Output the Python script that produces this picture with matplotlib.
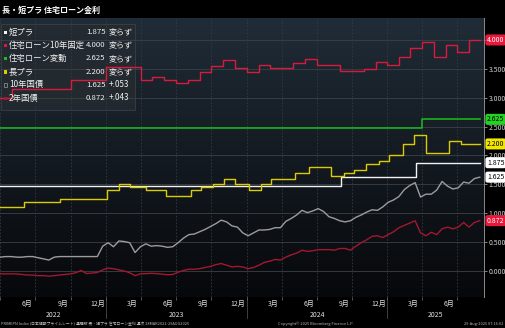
import numpy as np
import pandas as pd
import matplotlib
matplotlib.use('Agg')
import matplotlib.pyplot as plt
import matplotlib.transforms as mtransforms
from matplotlib.patches import FancyBboxPatch, Rectangle

plt.rcParams['font.family'] = ['Noto Sans CJK JP', 'DejaVu Sans']

W, H = 505, 328

# ---- データ ----
title = '長・短プラ 住宅ローン金利'
end_date = '2025-08-29'

# 住宅ローン10年固定 (月次)
fixed10_months = pd.date_range('2022-04-01', '2025-08-01', freq='MS')
fixed10_rate = [3.00, 3.15, 3.15, 3.15, 3.15, 3.15, 3.30, 3.30, 3.30,
                3.53, 3.53, 3.53, 3.30, 3.36, 3.30, 3.26, 3.30, 3.45, 3.55, 3.65, 3.52,
                3.45, 3.57, 3.52, 3.52, 3.60, 3.67, 3.57, 3.57, 3.46, 3.46, 3.50, 3.61,
                3.56, 3.70, 3.86, 3.96, 3.70, 3.91, 3.80, 4.00]

# 住宅ローン変動
variable_dates = ['2022-04-01', '2025-04-01']
variable_rate = [2.475, 2.625]

# 短プラ
short_prime_dates = ['2022-04-01', '2024-09-02', '2025-03-17']
short_prime_rate = [1.475, 1.625, 1.875]

# 長プラ
long_prime_dates = ['2022-04-01', '2022-06-02', '2022-09-03', '2023-01-03', '2023-02-03',
                    '2023-03-04', '2023-04-15', '2023-06-06', '2023-08-10', '2023-09-05',
                    '2023-10-06', '2023-11-03', '2023-12-02', '2024-01-07', '2024-02-07',
                    '2024-03-04', '2024-05-06', '2024-06-11', '2024-08-07', '2024-09-10',
                    '2024-10-06', '2024-11-07', '2024-12-10', '2025-01-05', '2025-02-10',
                    '2025-03-11', '2025-04-11', '2025-06-10', '2025-07-11']
long_prime_rate = [1.10, 1.20, 1.25, 1.40, 1.50, 1.45, 1.40, 1.30, 1.40, 1.45,
                   1.50, 1.60, 1.50, 1.40, 1.50, 1.60, 1.70, 1.80, 1.65, 1.70,
                   1.75, 1.85, 1.90, 2.00, 2.20, 2.35, 2.05, 2.25, 2.20]

# 国債利回り (2週ごと)
bond_dates = pd.date_range('2022-04-01', end_date, freq='14D')
jgb10 = [0.24, 0.25, 0.25, 0.24, 0.24, 0.25, 0.25, 0.23, 0.21, 0.19,
         0.24, 0.25, 0.25, 0.25, 0.25, 0.25, 0.25, 0.25, 0.25, 0.43,
         0.49, 0.42, 0.52, 0.51, 0.49, 0.32, 0.42, 0.47, 0.43, 0.44,
         0.43, 0.41, 0.42, 0.49, 0.57, 0.63, 0.64, 0.68, 0.72, 0.77,
         0.82, 0.88, 0.85, 0.78, 0.76, 0.66, 0.61, 0.66, 0.71, 0.71,
         0.72, 0.75, 0.75, 0.86, 0.91, 0.97, 1.05, 1.01, 1.04, 1.08,
         1.03, 0.94, 0.91, 0.87, 0.85, 0.87, 0.93, 0.97, 1.02, 1.06,
         1.05, 1.11, 1.19, 1.23, 1.29, 1.41, 1.48, 1.53, 1.28, 1.33,
         1.33, 1.40, 1.55, 1.47, 1.42, 1.44, 1.54, 1.52, 1.60, 1.625]
jgb2 = [-0.05, -0.05, -0.05, -0.05, -0.06, -0.07, -0.07, -0.08, -0.08, -0.09,
        -0.08, -0.07, -0.06, -0.05, -0.03, 0.01, -0.045, -0.035, -0.025, 0.02,
        0.05, 0.04, 0.02, 0.00, -0.03, -0.08, -0.05, -0.045, -0.04, -0.045,
        -0.055, -0.065, -0.06, -0.02, 0.01, 0.03, 0.03, 0.04, 0.06, 0.08,
        0.11, 0.13, 0.10, 0.07, 0.08, 0.07, 0.04, 0.06, 0.10, 0.15,
        0.17, 0.20, 0.19, 0.24, 0.28, 0.31, 0.36, 0.34, 0.35, 0.37,
        0.37, 0.37, 0.36, 0.39, 0.39, 0.36, 0.43, 0.49, 0.54, 0.60,
        0.61, 0.58, 0.63, 0.68, 0.75, 0.79, 0.83, 0.87, 0.66, 0.61,
        0.67, 0.63, 0.73, 0.76, 0.73, 0.76, 0.84, 0.76, 0.84, 0.872]

legend_names = ['短プラ', '住宅ローン10年固定', '住宅ローン変動', '長プラ', '10年国債', '2年国債']
legend_values = ['1.875', '4.000', '2.625', '2.200', '1.625', '0.872']
legend_changes = ['変らず', '変らず', '変らず', '変らず', '+.053', '+.043']

yticks = [0.0, 0.5, 1.0, 1.5, 2.0, 2.5, 3.0, 3.5, 4.0]

# ---- 色 ----
c_fixed = '#d81a3c'
c_var = '#1cbd1c'
c_short = '#f2f2f2'
c_long = '#dccb00'
c_jgb10 = '#9c9c9c'
c_jgb2 = '#a3172f'


def px(x, y):
    return x / W, 1 - y / H


def extend(dates, values):
    d = list(pd.to_datetime(dates)) + [pd.Timestamp(end_date)]
    v = list(values) + [values[-1]]
    return d, v


fig = plt.figure(figsize=(W / 100, H / 100), dpi=100, facecolor='black')
ax = fig.add_axes([0, 1 - 297 / H, 484 / W, (297 - 18) / H])
ax.set_facecolor('#0b0d11')

# 背景グラデーション
grad = np.linspace(0, 1, 256)[:, None]
top = np.array([0x20, 0x2c, 0x37]) / 255
bot = np.array([0x07, 0x08, 0x0b]) / 255
img = top[None, None, :] * (1 - grad[:, :, None]) + bot[None, None, :] * grad[:, :, None]
ax.imshow(img, extent=[0, 1, 0, 1], transform=ax.transAxes, aspect='auto', zorder=0)

# 凡例ボックス (線の下)
box = FancyBboxPatch(px(1, 110), 134 / W, 86 / H, boxstyle='square,pad=0',
                     transform=fig.transFigure, fc='#242a30', ec='#3c4248', lw=0.6,
                     alpha=0.9, zorder=1)
ax.add_artist(box)
box.set_transform(fig.transFigure)

# 系列
ax.plot(bond_dates, jgb2, color=c_jgb2, lw=1.0, zorder=3)
ax.plot(bond_dates, jgb10, color=c_jgb10, lw=1.0, zorder=3)
d, v = extend(short_prime_dates, short_prime_rate)
ax.plot(d, v, color=c_short, lw=1.0, drawstyle='steps-post', zorder=3)
d, v = extend(long_prime_dates, long_prime_rate)
ax.plot(d, v, color=c_long, lw=1.0, drawstyle='steps-post', zorder=3)
d, v = extend(variable_dates, variable_rate)
ax.plot(d, v, color=c_var, lw=1.1, drawstyle='steps-post', zorder=3)
d, v = extend(fixed10_months, fixed10_rate)
ax.plot(d, v, color=c_fixed, lw=1.0, drawstyle='steps-post', zorder=3)

# 軸
ax.set_xlim(pd.Timestamp('2022-03-31'), pd.Timestamp('2025-09-09'))
ax.set_ylim(-0.45, 4.38)
ax.yaxis.tick_right()
ax.set_yticks(yticks)
ax.set_yticklabels([f'{t:.3f}' for t in yticks])
ax.tick_params(axis='y', which='major', labelsize=5, labelcolor='#cfcfcf', color='#9a9a9a',
               length=2, width=0.6, pad=1.5)
ax.grid(axis='y', color='#3a4148', lw=0.6, zorder=1)

quarter_starts = pd.date_range('2022-04-01', '2025-07-01', freq='QS')
ax.set_xticks(quarter_starts)
ax.set_xticklabels([''] * len(quarter_starts))
ax.grid(axis='x', which='major', color='#323a42', lw=0.6, ls=(0, (2, 2)), zorder=1)
ax.tick_params(axis='x', which='major', length=2, color='#777777', width=0.5)

month_pos = pd.date_range('2022-06-01', '2025-06-01', freq='3MS') + pd.Timedelta(days=9)
ax.set_xticks(month_pos, minor=True)
ax.set_xticklabels([f'{m.month}月' for m in month_pos], minor=True)
ax.tick_params(axis='x', which='minor', length=0, labelsize=5, labelcolor='#e0e0e0', pad=2)

for s in ['top', 'left', 'bottom']:
    ax.spines[s].set_visible(False)
ax.spines['right'].set_color('#8a8a8a')
ax.spines['right'].set_linewidth(0.7)

# 年ラベルと区切り線
trans = mtransforms.blended_transform_factory(ax.transData, ax.transAxes)
x0, x1 = ax.get_xlim()
year_bounds = [pd.Timestamp('2023-01-01'), pd.Timestamp('2024-01-01'), pd.Timestamp('2025-01-01')]
edges = [x0] + [matplotlib.dates.date2num(b) for b in year_bounds] + [x1]
for i, yr in enumerate(['2022', '2023', '2024', '2025']):
    ax.text((edges[i] + edges[i + 1]) / 2, -0.065, yr, transform=trans, ha='center', va='center',
            fontsize=5, color='#e0e0e0', clip_on=False)
for b in year_bounds:
    ax.plot([b, b], [0, -0.075], transform=trans, color='#5a5a5a', lw=0.5, clip_on=False)

# 右端の値ラベル
ytrans = mtransforms.blended_transform_factory(ax.transAxes, ax.transData)
tags = [(fixed10_rate[-1], '#e8173c', 'white'),
        (variable_rate[-1], '#22d322', 'black'),
        (long_prime_rate[-1], '#f2e600', 'black'),
        (short_prime_rate[-1], '#ffffff', 'black'),
        (jgb10[-1], '#ffffff', 'black'),
        (jgb2[-1], '#e8173c', 'white')]
for val, fc, tc in tags:
    ax.text(1.006, val, f'{val:.3f}', transform=ytrans, ha='left', va='center', fontsize=5,
            color=tc, clip_on=False, zorder=6,
            bbox=dict(boxstyle='round,pad=0.22,rounding_size=0.3', fc=fc, ec='none'))

# タイトル
fig.text(*px(2, 10), title, fontsize=5.8, color='white', fontweight='bold', va='center', ha='left')

# 凡例
marker_colors = [c_short, c_fixed, c_var, c_long, None, c_jgb2]
for i, name in enumerate(legend_names):
    yy = 32 + 13.2 * i
    mc = marker_colors[i]
    if mc is None:
        r = Rectangle(px(3.5, yy + 2), 3.5 / W, 3.5 / H, transform=fig.transFigure,
                      fc='none', ec='#8a8a8a', lw=0.6, zorder=5)
    else:
        r = Rectangle(px(3.5, yy + 2), 3.5 / W, 3.5 / H, transform=fig.transFigure,
                      fc=mc, ec='none', zorder=5)
    fig.add_artist(r)
    fig.text(*px(9, yy), name, fontsize=6, color='#f0f0f0', va='center', ha='left', zorder=5)
    fig.text(*px(86, yy), legend_values[i], fontsize=5.6, color='#f0f0f0', va='center', ha='left',
             zorder=5)
    fig.text(*px(108.5, yy), legend_changes[i], fontsize=5.8, color='#f0f0f0', va='center', ha='left',
             zorder=5)

# フッター
fig.text(*px(1, 324), 'PRIMEPN Index (日本短期プライムレート) 週間版 長・短プラ 住宅ローン金利 週次 28MAR2022-29AUG2025',
         fontsize=2.8, color='#bdbdbd', va='center', ha='left')
fig.text(*px(316, 324), 'Copyright© 2025 Bloomberg Finance L.P.', fontsize=2.8, color='#bdbdbd',
         va='center', ha='center')
fig.text(*px(503, 324), '29-Aug-2025 07:16:02', fontsize=2.8, color='#bdbdbd', va='center', ha='right')

fig.savefig('out.png', dpi=100, facecolor='black')
